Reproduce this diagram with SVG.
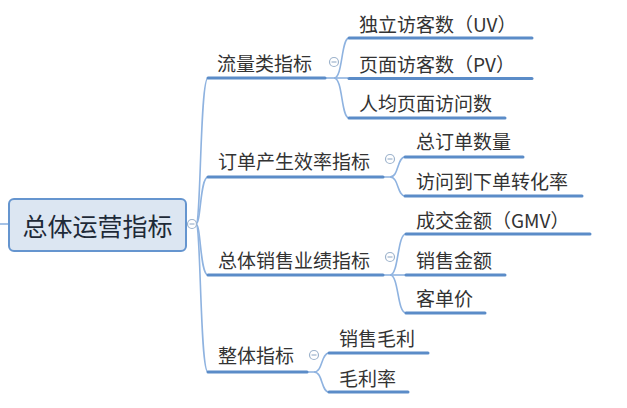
<svg xmlns="http://www.w3.org/2000/svg" width="627" height="408" viewBox="0 0 627 408">
<style>
text{font-family:"Noto Sans CJK SC","Noto Sans",sans-serif;fill:#333;dominant-baseline:central}
.t{font-size:19px}
.root{font-size:25px;fill:#1e2a38}
.ul{stroke:#5b8cc8;stroke-width:3;fill:none;stroke-linecap:round}
.cn{stroke:#8fb3e0;stroke-width:1.6;fill:none}
.tg circle{fill:#fff;stroke:#9db3cc;stroke-width:1.2}
.tg line{stroke:#9db3cc;stroke-width:1.2}
</style>
<rect width="627" height="408" fill="#fff"/>
<g id="connectors">
<path class="cn" d="M0,224 L9,224"/>
<path class="cn" d="M196,224 C201,224 200,78 208,78"/>
<path class="cn" d="M196,224 C201,224 200,177 208,177"/>
<path class="cn" d="M196,224 C201,224 200,275 208,275"/>
<path class="cn" d="M196,224 C201,224 200,372 208,372"/>
<path class="cn" d="M325,78 L348,78"/>
<path class="cn" d="M334,78 C343,78 341,38 349,38"/>
<path class="cn" d="M334,78 C343,78 341,118 349,118"/>
<path class="cn" d="M383,177 L390,177 C399,177 397,157 405,157"/>
<path class="cn" d="M390,177 C399,177 397,196 405,196"/>
<path class="cn" d="M383,275 L405,275"/>
<path class="cn" d="M390,275 C399,275 397,234 406,234"/>
<path class="cn" d="M390,275 C399,275 397,313 406,313"/>
<path class="cn" d="M307,372 L314,372 C323,372 321,353 329,353"/>
<path class="cn" d="M314,372 C323,372 321,392 329,392"/>
</g>
<g id="root">
<rect x="9" y="199" width="177" height="52" rx="5" fill="#dce6f2" stroke="#6595cf" stroke-width="2"/>
<text class="root" x="97.5" y="225" text-anchor="middle">总体运营指标</text>
<g class="tg"><circle cx="192" cy="224" r="4.5"/><line x1="189.5" y1="224" x2="194.5" y2="224"/></g>
</g>
<g id="b1">
<text class="t" x="217" y="62">流量类指标</text>
<path class="ul" d="M208,78 H325"/>
<g class="tg"><circle cx="334" cy="62" r="4.5"/><line x1="331.5" y1="62" x2="336.5" y2="62"/></g>
</g>
<g id="b1c1"><text class="t" x="359" y="23">独立访客数（UV）</text><path class="ul" d="M349,38 H532"/></g>
<g id="b1c2"><text class="t" x="359" y="63">页面访客数（PV）</text><path class="ul" d="M349,78.5 H532"/></g>
<g id="b1c3"><text class="t" x="359" y="102">人均页面访问数</text><path class="ul" d="M349,118 H505"/></g>
<g id="b2">
<text class="t" x="218" y="160">订单产生效率指标</text>
<path class="ul" d="M208,177 H383"/>
<g class="tg"><circle cx="390" cy="159" r="4.5"/><line x1="387.5" y1="159" x2="392.5" y2="159"/></g>
</g>
<g id="b2c1"><text class="t" x="416" y="140">总订单数量</text><path class="ul" d="M405,157 H523"/></g>
<g id="b2c2"><text class="t" x="416" y="180">访问到下单转化率</text><path class="ul" d="M405,196 H582"/></g>
<g id="b3">
<text class="t" x="218" y="259">总体销售业绩指标</text>
<path class="ul" d="M208,275 H383"/>
<g class="tg"><circle cx="390" cy="257" r="4.5"/><line x1="387.5" y1="257" x2="392.5" y2="257"/></g>
</g>
<g id="b3c1"><text class="t" x="416" y="219">成交金额（GMV）</text><path class="ul" d="M406,234 H590"/></g>
<g id="b3c2"><text class="t" x="416" y="259">销售金额</text><path class="ul" d="M406,275 H505"/></g>
<g id="b3c3"><text class="t" x="416" y="297">客单价</text><path class="ul" d="M406,313 H485"/></g>
<g id="b4">
<text class="t" x="218" y="354">整体指标</text>
<path class="ul" d="M208,372 H307"/>
<g class="tg"><circle cx="314" cy="355" r="4.5"/><line x1="311.5" y1="355" x2="316.5" y2="355"/></g>
</g>
<g id="b4c1"><text class="t" x="339" y="337">销售毛利</text><path class="ul" d="M329,353 H428"/></g>
<g id="b4c2"><text class="t" x="339" y="377">毛利率</text><path class="ul" d="M329,392 H408"/></g>
</svg>
